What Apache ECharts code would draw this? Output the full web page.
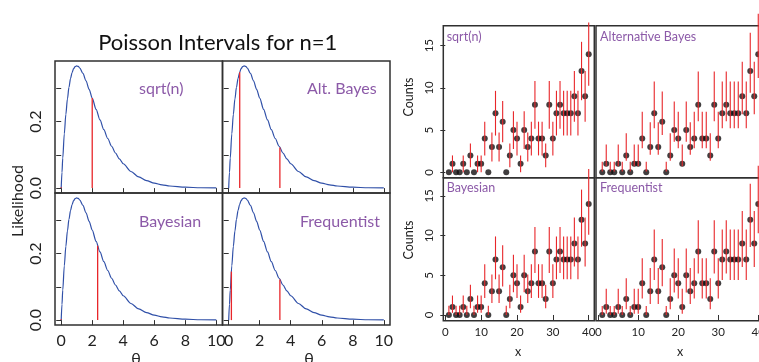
<!DOCTYPE html>
<html><head><meta charset="utf-8">
<script src="https://cdn.jsdelivr.net/npm/echarts@6/dist/echarts.min.js"></script>
<style>html,body{margin:0;padding:0;background:#fff}#c{width:759px;height:362px}</style>
</head><body><div id="c"></div>
<script>
// ---------- Left figure: likelihood for n=1 ----------
const thetaGrid = [0,0.05,0.1,0.2,0.3,0.4,0.5,0.6,0.7,0.8,0.9,1,1.1,1.2,1.4,1.6,1.8,2,2.25,2.5,2.75,3,3.25,3.5,3.75,4,4.5,5,5.5,6,6.5,7,8,9,10];
const likelihood = [0,0.0476,0.0905,0.1637,0.2222,0.2681,0.3033,0.3293,0.3476,0.3595,0.3659,0.3679,0.3662,0.3614,0.3452,0.3230,0.2975,0.2707,0.2371,0.2052,0.1758,0.1494,0.1260,0.1057,0.0882,0.0733,0.0500,0.0337,0.0225,0.0149,0.0098,0.0064,0.0027,0.0011,0.0005];
const leftNames = ['sqrt(n)','Alt. Bayes','Bayesian','Frequentist'];
const leftLo  = [0, 0.71, 0, 0.173];
const leftLoH = [0, 0.349, 0, 0.146];
const leftHi  = [2, 3.3, 2.35, 3.3];
const leftHiH = [0.271, 0.122, 0.224, 0.122];
const thetaTicks = [0,2,4,6,8,10];
const likTicks = [0,0.1,0.2,0.3];
const likLabels = [0,0.2];

// ---------- Right figure: counts with intervals ----------
const xs = [1,2,3,4,5,6,7,8,9,10,11,12,13,14,15,16,17,18,19,20,21,22,23,24,25,26,27,28,29,30,31,32,33,34,35,36,37,38,39,40];
const counts = [0,1,0,0,1,0,2,0,1,1,4,0,3,7,3,6,0,2,5,4,1,5,3,4,8,4,4,2,8,4,7,8,7,7,7,9,7,12,9,14];
const countLevels = [0,1,2,3,4,5,6,7,8,9,12,14];
const sqrtLo  = [0,0,0.59,1.27,2,2.76,3.55,4.35,5.17,6,8.54,10.26];
const sqrtHi  = [0,2,3.41,4.73,6,7.24,8.45,9.65,10.83,12,15.46,17.74];
const altLo   = [0.1,0.71,1.37,2.09,2.84,3.62,4.42,5.23,6.06,6.89,9.43,11.16];
const altHi   = [1.26,3.3,4.64,5.92,7.16,8.38,9.58,10.77,11.95,13.11,16.54,18.8];
const bayesLo = [0,0.27,0.86,1.5,2.15,2.85,3.6,4.5,5.3,6.1,8.6,10.1];
const bayesHi = [1.15,2.45,3.8,5.1,6.4,7.6,8.8,9.9,11.1,12.3,15.8,18.4];
const freqLo  = [0,0.17,0.71,1.37,2.09,2.84,3.62,4.42,5.23,6.06,8.58,10.3];
const freqHi  = [1.14,3.3,4.64,5.92,7.16,8.38,9.58,10.77,11.95,13.11,16.54,18.8];
const rightNames = ['sqrt(n)','Alternative Bayes','Bayesian','Frequentist'];
const countTicks = [0,5,10,15];
const xTicks = [0,10,20,30,40];

const FONT = 'Lato';
const FRAME = '#303030';
const RED = '#e8262a';
const PURPLE = '#8c5aa8';
const BLUE = '#3050a8';

const grids = [], xAxes = [], yAxes = [], series = [];
function addPanel(rect, xr, yr, xo, yo) {
  const i = grids.length;
  grids.push(Object.assign({show:true, borderColor:FRAME, borderWidth:1.5, backgroundColor:'transparent',
    containLabel:false, outerBoundsMode:'none'}, rect));
  xAxes.push({type:'value', gridIndex:i, min:xr[0], max:xr[1], splitLine:{show:false}, axisLine:{show:false},
    axisTick:{show:xo.ticks, customValues:xo.tickVals, length:5, lineStyle:{color:FRAME, width:1}},
    axisLabel:{show:xo.labels, customValues:xo.tickVals, fontFamily:FONT, fontSize:xo.fs, color:'#222', margin:xo.margin}});
  yAxes.push({type:'value', gridIndex:i, min:yr[0], max:yr[1], splitLine:{show:false}, axisLine:{show:false},
    axisTick:{show:yo.ticks, customValues:yo.tickVals, length:5, lineStyle:{color:FRAME, width:1}},
    axisLabel:{show:yo.labels, customValues:yo.labelVals, rotate:90, fontFamily:FONT, fontSize:yo.fs, color:'#222', margin:yo.margin,
      formatter: yo.fmt}});
  return i;
}

// left figure panels
const leftRects = [
  {left:55, top:61, width:167.5, height:132},
  {left:222.5, top:61, width:167.5, height:132},
  {left:55, top:193, width:167.5, height:132},
  {left:222.5, top:193, width:167.5, height:132}
];
leftRects.forEach((r, k) => {
  const i = addPanel(r, [-0.4, 10.4], [-0.0147, 0.3826],
    {ticks:true, tickVals:thetaTicks, labels:k>=2, fs:16, margin:8},
    {ticks:true, tickVals:likTicks, labelVals:likLabels, labels:k%2===0, fs:16, margin:11, fmt:v=>Number(v).toFixed(1)});
  series.push({type:'line', xAxisIndex:i, yAxisIndex:i, data:thetaGrid.map((t,j)=>[t, likelihood[j]]),
    smooth:0.3, smoothMonotone:'x', symbol:'none', lineStyle:{color:BLUE, width:1.2}, silent:true, z:2});
  series.push({type:'custom', xAxisIndex:i, yAxisIndex:i, clip:false, silent:true, z:3,
    data:[[leftLo[k], leftLoH[k]], [leftHi[k], leftHiH[k]]],
    encode:{x:0, y:1},
    renderItem:(p, api) => {
      const a = api.coord([api.value(0), 0]);
      const b = api.coord([api.value(0), api.value(1)]);
      const y2 = Math.min(b[1], a[1] - 0.8);
      return {type:'line', shape:{x1:a[0], y1:a[1], x2:b[0], y2:y2}, style:{stroke:RED, lineWidth:1.3}};
    }});
});

// right figure panels
const rightRects = [
  {left:443.3, top:25.7, width:151, height:152},
  {left:596, top:25.7, width:168.5, height:152},
  {left:443.3, top:177.7, width:151, height:143},
  {left:596, top:177.7, width:168.5, height:143}
];
const rightYR = [[-0.64,17.37],[-0.64,17.37],[-0.72,17.3],[-0.72,17.3]];
const loSets = [sqrtLo, altLo, bayesLo, freqLo];
const hiSets = [sqrtHi, altHi, bayesHi, freqHi];
rightRects.forEach((r, k) => {
  const i = addPanel(r, [-0.56, 41.56], rightYR[k],
    {ticks:k>=2, tickVals:xTicks, labels:k>=2, fs:11.5, margin:6},
    {ticks:k%2===0, tickVals:countTicks, labelVals:countTicks, labels:k%2===0, fs:11.5, margin:8, fmt:v=>String(v)});
  series.push({type:'scatter', xAxisIndex:i, yAxisIndex:i, data:xs.map((x,j)=>[x, counts[j]]),
    symbol:'circle', symbolSize:6, itemStyle:{color:'#120e0f'}, silent:true, z:2});
  const lo = loSets[k], hi = hiSets[k];
  series.push({type:'custom', xAxisIndex:i, yAxisIndex:i, clip:false, silent:true, z:3,
    data:xs.map((x,j) => { const c = countLevels.indexOf(counts[j]); return [x, lo[c], hi[c]]; }),
    encode:{x:0, y:[1,2]},
    renderItem:(p, api) => {
      const a = api.coord([api.value(0), api.value(1)]);
      const b = api.coord([api.value(0), api.value(2)]);
      return {type:'line', shape:{x1:a[0], y1:a[1], x2:b[0], y2:b[1]}, style:{stroke:RED, lineWidth:1.1}};
    }});
});

function txt(x, y, s, size, color, rot, align) {
  return {type:'text', x:x, y:y, rotation:rot||0, silent:true, z:10,
    style:{text:s, font:size+'px '+FONT, fill:color, align:align||'center', verticalAlign:'middle'}};
}
const graphics = [
  txt(217.7, 43, 'Poisson Intervals for n=1', 22, '#111'),
  txt(18, 201, 'Likelihood', 16, '#222', Math.PI/2),
  txt(136, 359, 'θ', 16, '#222'),
  txt(309, 359, 'θ', 16, '#222'),
  txt(139, 89, leftNames[0], 16, PURPLE, 0, 'left'),
  txt(307, 89, leftNames[1], 16, PURPLE, 0, 'left'),
  txt(139, 222, leftNames[2], 16, PURPLE, 0, 'left'),
  txt(300, 222, leftNames[3], 16, PURPLE, 0, 'left'),
  txt(409, 97, 'Counts', 12.5, '#222', Math.PI/2),
  txt(409, 240, 'Counts', 12.5, '#222', Math.PI/2),
  txt(518, 351.7, 'x', 12.5, '#222'),
  txt(680, 351.7, 'x', 12.5, '#222'),
  txt(446.7, 36.7, rightNames[0], 12.5, PURPLE, 0, 'left'),
  txt(600, 36.7, rightNames[1], 12.5, PURPLE, 0, 'left'),
  txt(446.7, 187.7, rightNames[2], 12.5, PURPLE, 0, 'left'),
  txt(600, 187.7, rightNames[3], 12.5, PURPLE, 0, 'left')
];

const chart = echarts.init(document.getElementById('c'));
chart.setOption({animation:false, backgroundColor:'#fff', grid:grids, xAxis:xAxes, yAxis:yAxes, series:series, graphic:graphics});
</script></body></html>
